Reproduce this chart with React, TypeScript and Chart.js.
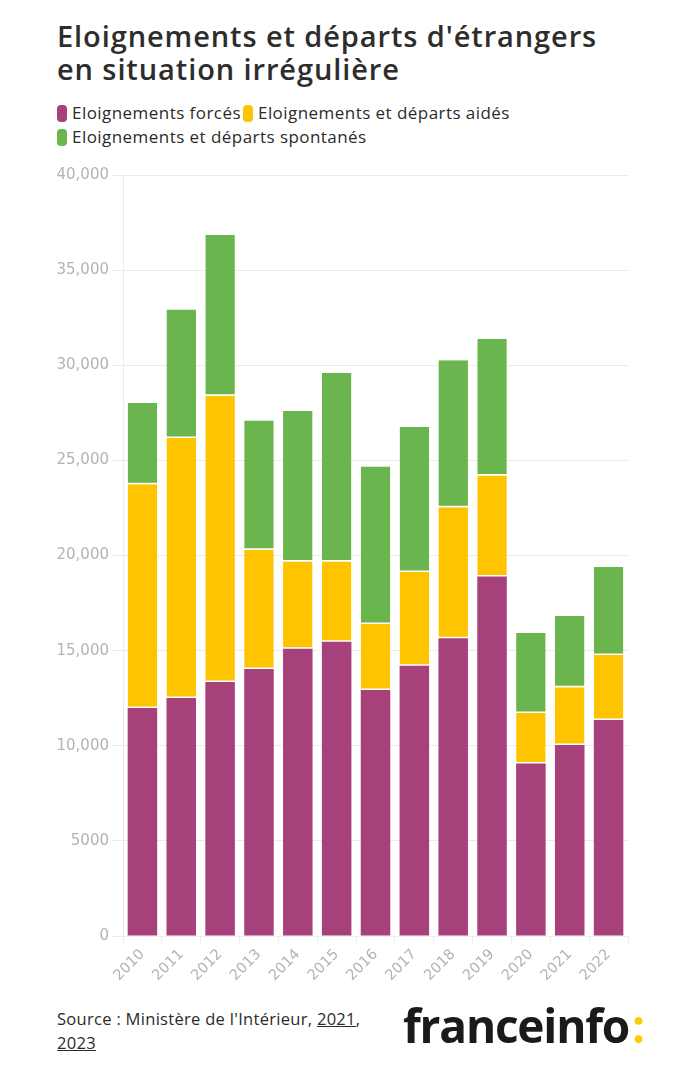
import React, { useEffect, useRef } from "react";
import { Chart, registerables } from "chart.js";

Chart.register(...registerables);

const years = ["2010", "2011", "2012", "2013", "2014", "2015", "2016", "2017", "2018", "2019", "2020", "2021", "2022"];
const forces = [11980, 12510, 13350, 14040, 15100, 15460, 12930, 14210, 15650, 18900, 9070, 10040, 11350];
const aides = [11770, 13670, 15050, 6260, 4580, 4220, 3470, 4920, 6890, 5300, 2650, 3030, 3420];
const spontanes = [4260, 6750, 8440, 6790, 7920, 9920, 8280, 7630, 7720, 7190, 4200, 3750, 4620];

const seriesNames = ["Eloignements forcés", "Eloignements et départs aidés", "Eloignements et départs spontanés"];
const seriesColors = ["#a6417b", "#ffc400", "#6bb54f"];
const yTicks = [0, 5000, 10000, 15000, 20000, 25000, 30000, 35000, 40000];

const FONT = "'Open Sans', 'DejaVu Sans', sans-serif";
const TICK_FONT = "'DejaVu Sans', sans-serif";

export default function App() {
  const ref = useRef<HTMLCanvasElement | null>(null);

  useEffect(() => {
    document.body.style.margin = "0";
    const ctx = ref.current!;
    const chart = new Chart(ctx, {
      type: "bar",
      data: {
        labels: years,
        datasets: [
          {
            label: seriesNames[0],
            data: forces,
            backgroundColor: seriesColors[0],
            borderWidth: 0,
          },
          {
            label: seriesNames[1],
            data: aides,
            backgroundColor: seriesColors[1],
            borderColor: "#ffffff",
            borderWidth: { top: 0, left: 0, right: 0, bottom: 1.5 },
            borderSkipped: false,
          },
          {
            label: seriesNames[2],
            data: spontanes,
            backgroundColor: seriesColors[2],
            borderColor: "#ffffff",
            borderWidth: { top: 0, left: 0, right: 0, bottom: 1.5 },
            borderSkipped: false,
          },
        ],
      },
      options: {
        animation: false,
        responsive: false,
        maintainAspectRatio: false,
        layout: { padding: { top: 15, right: 68, left: 0, bottom: 0 } },
        datasets: { bar: { categoryPercentage: 1, barPercentage: 0.76 } },
        plugins: {
          legend: { display: false },
          tooltip: { enabled: false },
        },
        scales: {
          x: {
            stacked: true,
            grid: { display: true, drawOnChartArea: false, tickLength: 8, color: "#eeeeee" },
            border: { display: true, color: "#eeeeee" },
            ticks: {
              maxRotation: 45,
              minRotation: 45,
              color: "#b3b3b3",
              font: { family: TICK_FONT, size: 14.5 },
              padding: 2,
            },
            afterFit: (s: any) => {
              s.height = 64;
            },
          },
          y: {
            stacked: true,
            min: 0,
            max: 40000,
            afterBuildTicks: (s: any) => {
              s.ticks = yTicks.map((v) => ({ value: v }));
            },
            grid: { color: "#ebebeb", tickLength: 11 },
            border: { display: true, color: "#ebebeb" },
            ticks: {
              color: "#b3b3b3",
              font: { family: TICK_FONT, size: 15 },
              padding: 3,
              callback: (v: any) => (Number(v) >= 10000 ? Number(v).toLocaleString("en-US") : String(v)),
            },
            afterFit: (s: any) => {
              s.width = 123;
            },
          },
        },
      },
    });
    return () => chart.destroy();
  }, []);

  const swatch = (c: string) => (
    <span
      style={{
        display: "inline-block",
        width: 10,
        height: 17,
        borderRadius: 4,
        background: c,
        verticalAlign: "-3px",
        marginRight: 5,
      }}
    />
  );

  return (
    <div style={{ position: "relative", width: 696, height: 1078, background: "#fff", fontFamily: FONT, color: "#2b2b2b" }}>
      <div
        style={{
          position: "absolute",
          left: 57,
          top: 19,
          fontSize: 29,
          lineHeight: "33px",
          fontWeight: 600,
          letterSpacing: 0.9,
          color: "#2d2d2d",
        }}
      >
        Eloignements et départs d'étrangers
        <br />
        en situation irrégulière
      </div>
      <div style={{ position: "absolute", left: 57, top: 101, fontSize: 17, lineHeight: "24px", letterSpacing: 0.45, color: "#2b2b2b" }}>
        <div>
          {swatch(seriesColors[0])}
          {seriesNames[0]}
          <span style={{ marginLeft: 2 }} />
          {swatch(seriesColors[1])}
          {seriesNames[1]}
        </div>
        <div>
          {swatch(seriesColors[2])}
          {seriesNames[2]}
        </div>
      </div>
      <canvas
        ref={ref}
        width={696}
        height={840}
        style={{ position: "absolute", left: 0, top: 160, width: 696, height: 840 }}
      />
      <div style={{ position: "absolute", left: 57, top: 1007, fontSize: 16.5, lineHeight: "24px", letterSpacing: 0.3, color: "#2b2b2b", width: 340 }}>
        Source : Ministère de l'Intérieur, <span style={{ textDecoration: "underline" }}>2021</span>,
        <br />
        <span style={{ textDecoration: "underline" }}>2023</span>
      </div>
      <div
        style={{
          position: "absolute",
          left: 403,
          top: 996,
          fontSize: 46,
          fontWeight: 700,
          letterSpacing: -1.2,
          lineHeight: "58px",
          color: "#1a1a1a",
        }}
      >
        franceinfo<span style={{ color: "#ffcc00", marginLeft: 3 }}>:</span>
      </div>
    </div>
  );
}
